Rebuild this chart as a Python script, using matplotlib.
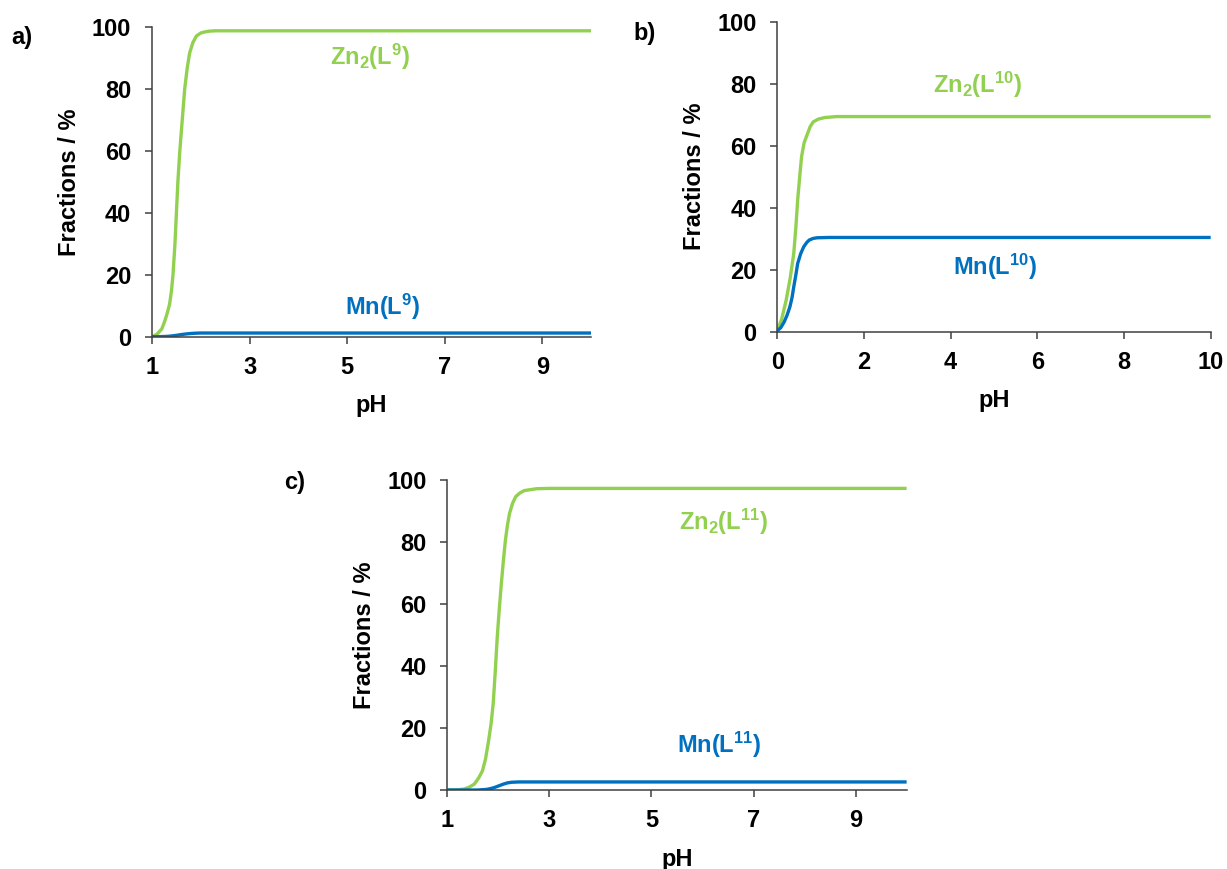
import numpy as np
import matplotlib
matplotlib.use("Agg")
import matplotlib.pyplot as plt

plt.rcParams['font.family'] = ['Liberation Sans', 'DejaVu Sans']
plt.rcParams['font.weight'] = 'bold'
plt.rcParams['mathtext.fontset'] = 'custom'
plt.rcParams['mathtext.rm'] = 'Liberation Sans:bold'
plt.rcParams['mathtext.bf'] = 'Liberation Sans:bold'
plt.rcParams['mathtext.it'] = 'Liberation Sans:bold'
plt.rcParams['mathtext.default'] = 'bf'

# a) L9
ph_zn_a = [1.0, 1.1, 1.2, 1.26, 1.31, 1.36, 1.40, 1.43, 1.47, 1.50, 1.53, 1.57, 1.62, 1.67, 1.72, 1.77, 1.84, 1.91, 2.0, 2.1, 2.18, 2.3, 2.5, 10.0]
zn_a = [0.0, 0.8, 2.5, 5.0, 7.5, 10.5, 15.0, 20.0, 30.0, 40.0, 50.0, 60.0, 70.0, 80.0, 86.5, 91.5, 95.0, 97.0, 98.0, 98.4, 98.6, 98.7, 98.7, 98.7]
ph_mn_a = [1.0, 1.2, 1.3, 1.4, 1.5, 1.6, 1.7, 1.8, 1.9, 2.0, 2.2, 10.0]
mn_a = [0.0, 0.05, 0.1, 0.25, 0.45, 0.7, 0.9, 1.05, 1.15, 1.2, 1.2, 1.2]

# b) L10
ph_zn_b = [0.0, 0.1, 0.205, 0.3, 0.38, 0.43, 0.47, 0.52, 0.56, 0.62, 0.70, 0.76, 0.83, 0.95, 1.10, 1.37, 10.0]
zn_b = [0.5, 4.0, 10.2, 17.5, 25.3, 34.0, 42.5, 50.5, 56.5, 61.0, 64.0, 66.2, 67.7, 68.6, 69.1, 69.4, 69.4]
ph_mn_b = [0.0, 0.08, 0.16, 0.23, 0.29, 0.34, 0.38, 0.43, 0.47, 0.54, 0.61, 0.68, 0.74, 0.83, 0.92, 1.19, 10.0]
mn_b = [0.3, 1.3, 3.2, 5.5, 8.0, 11.0, 14.5, 18.5, 22.0, 25.2, 27.4, 28.8, 29.6, 30.1, 30.3, 30.4, 30.4]

# c) L11
ph_zn_c = [1.0, 1.2, 1.33, 1.43, 1.53, 1.62, 1.69, 1.75, 1.81, 1.86, 1.90, 1.94, 1.98, 2.02, 2.06, 2.10, 2.14, 2.18, 2.22, 2.28, 2.34, 2.42, 2.51, 2.75, 3.0, 10.0]
zn_c = [0.0, 0.05, 0.3, 0.9, 1.9, 4.0, 6.2, 10.0, 15.9, 21.5, 27.8, 38.0, 49.4, 58.5, 66.6, 74.0, 80.6, 85.5, 89.2, 92.5, 94.6, 95.8, 96.6, 97.2, 97.3, 97.3]
ph_mn_c = [1.0, 1.6, 1.77, 1.86, 1.94, 2.02, 2.10, 2.18, 2.26, 2.4, 2.59, 10.0]
mn_c = [0.0, 0.0, 0.2, 0.5, 0.9, 1.4, 1.9, 2.3, 2.5, 2.6, 2.6, 2.6]

ticks_y = [0, 20, 40, 60, 80, 100]
ticks_x_odd = [1, 3, 5, 7, 9]
ticks_x_even = [0, 2, 4, 6, 8, 10]

gruen = '#92D050'
blau = '#0070C0'
fs = 17

fig = plt.figure(figsize=(12.27, 8.69), dpi=100)

panels = [
    ([0.1239, 0.6125, 0.3578, 0.3567], ph_zn_a, zn_a, ph_mn_a, mn_a, (1, 10), ticks_x_odd,
     r'Zn$_2$(L$^{9}$)', (5.46, 90.3), r'Mn(L$^{9}$)', (5.73, 9.7)),
    ([0.6335, 0.6183, 0.3532, 0.3567], ph_zn_b, zn_b, ph_mn_b, mn_b, (0, 10), ticks_x_even,
     r'Zn$_2$(L$^{10}$)', (4.63, 79.6), r'Mn(L$^{10}$)', (5.02, 21.0)),
    ([0.3645, 0.0909, 0.3744, 0.3567], ph_zn_c, zn_c, ph_mn_c, mn_c, (1, 10), ticks_x_odd,
     r'Zn$_2$(L$^{11}$)', (6.41, 86.5), r'Mn(L$^{11}$)', (6.33, 14.6)),
]

for pos, xz, yz, xm, ym, xlim, xt, tz, pz, tm, pm in panels:
    ax = fig.add_axes(pos)
    ax.plot(xz, yz, color=gruen, lw=2.4, solid_capstyle='butt')
    ax.plot(xm, ym, color=blau, lw=2.4, solid_capstyle='butt')
    ax.set_xlim(*xlim)
    ax.set_ylim(0, 100)
    ax.set_xticks(xt)
    ax.set_yticks(ticks_y)
    ax.spines['right'].set_visible(False)
    ax.spines['top'].set_visible(False)
    for s in ['left', 'bottom']:
        ax.spines[s].set_color('#404040')
        ax.spines[s].set_linewidth(1.1)
    ax.tick_params(axis='y', direction='out', length=5, width=1.1, color='#404040', pad=10, labelsize=fs)
    ax.tick_params(axis='x', direction='out', length=5, width=1.1, color='#404040', pad=9, labelsize=fs)
    for lab in ax.get_xticklabels() + ax.get_yticklabels():
        lab.set_fontweight('bold')
    ax.set_xlabel('pH', fontsize=fs, fontweight='bold', labelpad=11)
    ax.set_ylabel('Fractions / %', fontsize=fs, fontweight='bold', labelpad=8)
    ax.text(pz[0], pz[1], tz, color=gruen, fontsize=fs, ha='center', va='center')
    ax.text(pm[0], pm[1], tm, color=blau, fontsize=fs, ha='center', va='center')

fig.text(0.0179, 0.9574, 'a)', fontsize=fs, fontweight='bold', ha='center', va='center')
fig.text(0.525, 0.961, 'b)', fontsize=fs, fontweight='bold', ha='center', va='center')
fig.text(0.2404, 0.4453, 'c)', fontsize=fs, fontweight='bold', ha='center', va='center')

fig.savefig('out.png', dpi=100)
